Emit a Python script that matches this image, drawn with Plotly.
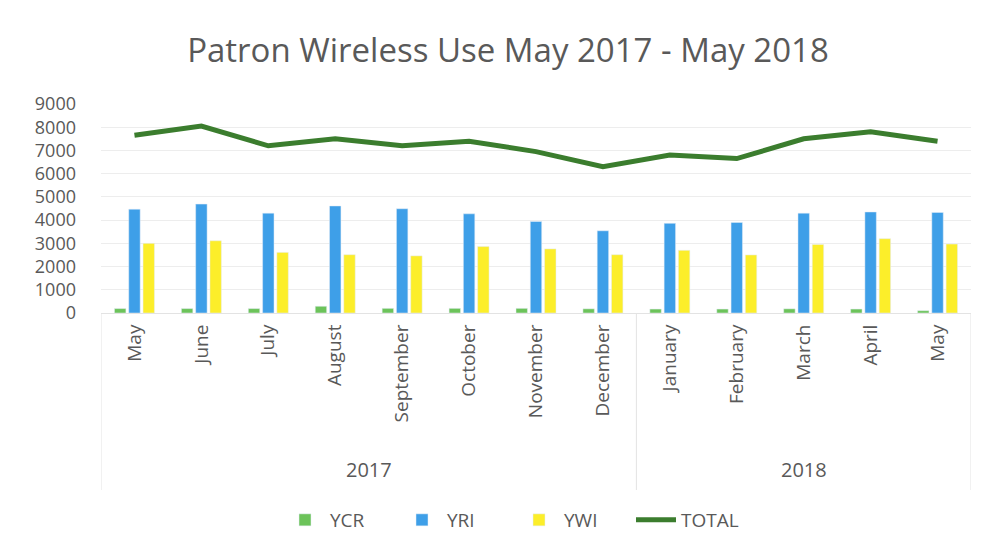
import plotly.graph_objects as go

months = ["May", "June", "July", "August", "September", "October", "November",
          "December", "January", "February", "March", "April", "May"]
years = ["2017"] * 8 + ["2018"] * 5
ycr = [190, 190, 190, 290, 200, 200, 200, 180, 170, 170, 180, 170, 100]
yri = [4470, 4690, 4300, 4610, 4490, 4270, 3940, 3540, 3860, 3900, 4300, 4350, 4330]
ywi = [3000, 3110, 2610, 2510, 2460, 2860, 2760, 2510, 2700, 2500, 2950, 3200, 2970]
total = [7650, 8050, 7200, 7500, 7200, 7400, 6950, 6300, 6800, 6650, 7500, 7800, 7400]
y_ticks = [0, 1000, 2000, 3000, 4000, 5000, 6000, 7000, 8000, 9000]

xs = list(range(len(months)))
FONT = "Open Sans"
GRAY = "#595959"
OFF = 8  # page body margin in the browser

fig = go.Figure()
fig.add_trace(go.Bar(x=xs, y=ycr, name="YCR", marker_color="#6CC35A"))
fig.add_trace(go.Bar(x=xs, y=yri, name="YRI", marker_color="#3E9FE8"))
fig.add_trace(go.Bar(x=xs, y=ywi, name="YWI", marker_color="#FCEE2A"))
fig.add_trace(go.Scatter(x=xs, y=total, name="TOTAL", mode="lines",
                         line=dict(color="#3B7D2E", width=5)))

# year group labels and separators
groups = {}
for i, yr in enumerate(years):
    groups.setdefault(yr, []).append(i)
plot_top, plot_bottom = 104, 313
ph = plot_bottom - plot_top
annotations = []
shapes = []
for yr, idx in groups.items():
    annotations.append(dict(x=(idx[0] + idx[-1]) / 2, y=-(469 - plot_bottom) / ph,
                            xref="x", yref="paper", text=yr, showarrow=False,
                            yanchor="middle",
                            font=dict(family=FONT, size=20, color=GRAY)))
bounds = [-0.5] + [idx[-1] + 0.5 for idx in groups.values()]
for b in bounds:
    shapes.append(dict(type="line", xref="x", yref="paper", x0=b, x1=b,
                       y0=0, y1=-(490 - plot_bottom) / ph,
                       line=dict(color="#E3E3E3", width=1)))

fig.update_layout(
    width=985, height=554,
    margin=dict(l=101 - OFF, r=14 + OFF, t=plot_top - OFF,
                b=554 - plot_bottom + OFF, autoexpand=False),
    paper_bgcolor="white", plot_bgcolor="white",
    title=dict(text="Patron Wireless Use May 2017 - May 2018",
               x=(508 - OFF) / 985, xref="container", xanchor="center",
               y=1 - (50 - OFF) / 554, yref="container", yanchor="middle",
               font=dict(family=FONT, size=33, color=GRAY)),
    barmode="group", bargap=0.36, bargroupgap=0.2,
    showlegend=True,
    legend=dict(orientation="h", x=(280 - OFF) / 985, xref="container", xanchor="left",
                y=1 - (520 - OFF) / 554, yref="container", yanchor="middle",
                font=dict(family=FONT, size=19, color=GRAY),
                entrywidth=62, entrywidthmode="pixels", itemwidth=40,
                traceorder="normal"),
    annotations=annotations,
    shapes=shapes,
)
fig.update_xaxes(range=[-0.5, len(months) - 0.5], tickvals=xs, ticktext=months,
                 tickangle=-90, showgrid=False, showline=True, linecolor="#E3E3E3",
                 ticklabelstandoff=3,
                 tickfont=dict(family=FONT, size=19, color=GRAY), zeroline=False)
fig.update_yaxes(range=[0, 9000], tickvals=y_ticks, showgrid=True,
                 gridcolor="#EDEDED", gridwidth=1, zeroline=False,
                 ticklabelstandoff=24,
                 tickfont=dict(family=FONT, size=18, color=GRAY))

fig.write_html("out.html")
